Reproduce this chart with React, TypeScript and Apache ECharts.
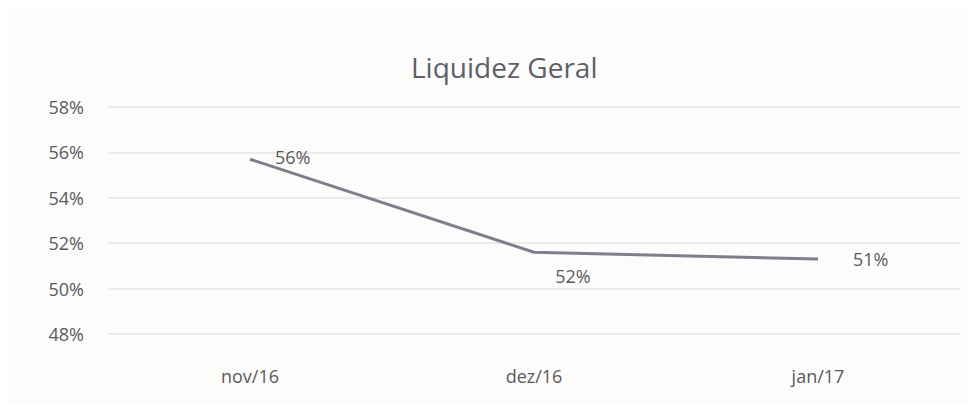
import React, { useEffect, useRef } from "react";
import * as echarts from "echarts";

const categories = ["nov/16", "dez/16", "jan/17"];
const values = [55.7, 51.6, 51.3];
const yTicks = [48, 50, 52, 54, 56, 58];
const title = "Liquidez Geral";

export default function App() {
  const ref = useRef<HTMLDivElement>(null);
  useEffect(() => {
    const chart = echarts.init(ref.current!, null, { renderer: "svg" });
    chart.setOption({
      animation: false,
      backgroundColor: "#fcfcfb",
      textStyle: { fontFamily: "Open Sans" },
      title: {
        text: title,
        left: 398,
        top: 40,
        textStyle: { fontSize: 28, fontWeight: "normal", color: "#5f5f6a", fontFamily: "Open Sans" },
      },
      grid: { left: 100, right: 8, top: 99, bottom: 70 },
      xAxis: {
        type: "category",
        data: categories,
        boundaryGap: true,
        axisLine: { show: false },
        axisTick: { show: false },
        axisLabel: { margin: 33, fontSize: 18, color: "#595960" },
      },
      yAxis: {
        type: "value",
        min: yTicks[0],
        max: yTicks[yTicks.length - 1],
        interval: 2,
        axisLabel: { formatter: (v: number) => v + "%", fontSize: 18, color: "#595960", margin: 24 },
        splitLine: { lineStyle: { color: "#e6e6e6", width: 1.5 } },
        axisLine: { show: false },
        axisTick: { show: false },
      },
      series: [
        {
          type: "line",
          data: values.map((v, i) => ({
            value: v,
            label: {
              position: i === 1 ? "bottom" : "right",
              offset: i === 0 ? [10, -2] : i === 1 ? [39, 0] : [20, 0],
            },
          })),
          symbol: "circle",
          symbolSize: 2,
          showSymbol: true,
          itemStyle: { color: "rgba(127,127,140,0)" },
          lineStyle: { color: "#7f7f8c", width: 3 },
          label: {
            show: true,
            formatter: (p: any) => Math.round(p.value) + "%",
            fontSize: 18,
            color: "#595960",
            distance: 14,
          },
        },
      ],
    });
    return () => chart.dispose();
  }, []);
  return <div ref={ref} style={{ width: 960, height: 396 }} />;
}
